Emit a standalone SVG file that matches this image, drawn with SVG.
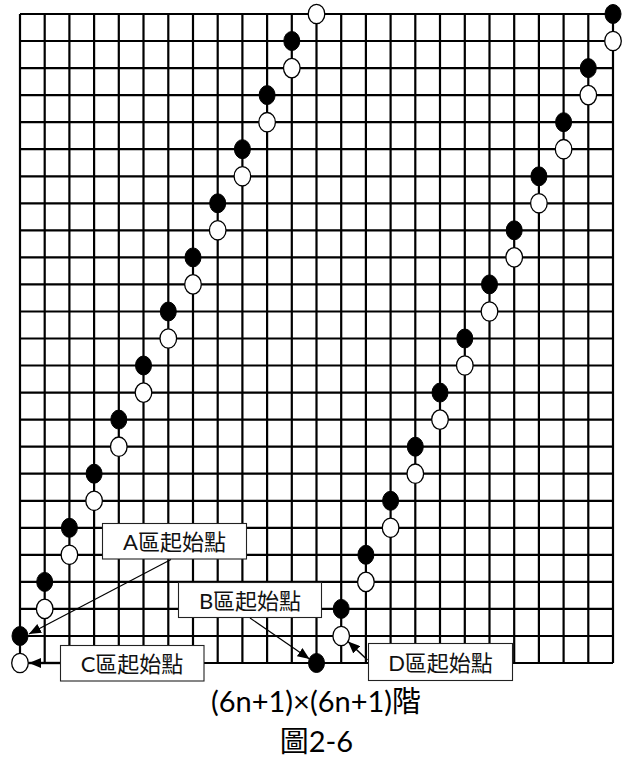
<svg xmlns="http://www.w3.org/2000/svg" width="624" height="760" viewBox="0 0 624 760">
<defs>
<style>
.grid{fill:none;stroke:#000;stroke-width:2.2}
.blk{fill:#000;stroke:#000;stroke-width:1}
.wht{fill:#fff;stroke:#000;stroke-width:1.3}
.box{fill:#fff;stroke:#222;stroke-width:1.1}
.lbl{font-family:Lato,"Noto Sans CJK TC",sans-serif;font-size:22px;fill:#111;text-anchor:middle}
.cap{font-family:Lato,"Noto Sans CJK TC",sans-serif;font-size:29px;fill:#000;text-anchor:middle}
.arr{fill:none;stroke:#000;stroke-width:1.2;marker-end:url(#ah)}
</style>
<marker id="ah" markerUnits="userSpaceOnUse" markerWidth="13" markerHeight="10" refX="12" refY="5" orient="auto">
<path d="M0,0 L12,5 L0,10 z" fill="#000"/>
</marker>
</defs>
<rect width="624" height="760" fill="#fff"/>
<g id="grid" class="grid">
<path d="M20,14V663M44.7,14V663M69.4,14V663M94.1,14V663M118.8,14V663M143.5,14V663M168.3,14V663M193,14V663M217.7,14V663M242.4,14V663M267.1,14V663M291.8,14V663M316.5,14V663M341.2,14V663M365.9,14V663M390.6,14V663M415.3,14V663M440,14V663M464.8,14V663M489.5,14V663M514.2,14V663M538.9,14V663M563.6,14V663M588.3,14V663M613,14V663"/>
<path d="M20,14H613M20,41H613M20,68.1H613M20,95.1H613M20,122.2H613M20,149.2H613M20,176.3H613M20,203.3H613M20,230.3H613M20,257.4H613M20,284.4H613M20,311.5H613M20,338.5H613M20,365.5H613M20,392.6H613M20,419.6H613M20,446.7H613M20,473.7H613M20,500.8H613M20,527.8H613M20,554.8H613M20,581.9H613M20,608.9H613M20,636H613M20,663H613"/>
</g>
<g id="chain-left">
<g id="L0b"><ellipse class="blk" cx="20" cy="636" rx="8" ry="9.5"/></g>
<g id="L0w"><ellipse class="wht" cx="20" cy="663" rx="8.3" ry="9.7"/></g>
<g id="L1b"><ellipse class="blk" cx="44.7" cy="581.9" rx="8" ry="9.5"/></g>
<g id="L1w"><ellipse class="wht" cx="44.7" cy="608.9" rx="8.3" ry="9.7"/></g>
<g id="L2b"><ellipse class="blk" cx="69.4" cy="527.8" rx="8" ry="9.5"/></g>
<g id="L2w"><ellipse class="wht" cx="69.4" cy="554.8" rx="8.3" ry="9.7"/></g>
<g id="L3b"><ellipse class="blk" cx="94.1" cy="473.7" rx="8" ry="9.5"/></g>
<g id="L3w"><ellipse class="wht" cx="94.1" cy="500.8" rx="8.3" ry="9.7"/></g>
<g id="L4b"><ellipse class="blk" cx="118.8" cy="419.6" rx="8" ry="9.5"/></g>
<g id="L4w"><ellipse class="wht" cx="118.8" cy="446.7" rx="8.3" ry="9.7"/></g>
<g id="L5b"><ellipse class="blk" cx="143.5" cy="365.5" rx="8" ry="9.5"/></g>
<g id="L5w"><ellipse class="wht" cx="143.5" cy="392.6" rx="8.3" ry="9.7"/></g>
<g id="L6b"><ellipse class="blk" cx="168.3" cy="311.5" rx="8" ry="9.5"/></g>
<g id="L6w"><ellipse class="wht" cx="168.3" cy="338.5" rx="8.3" ry="9.7"/></g>
<g id="L7b"><ellipse class="blk" cx="193" cy="257.4" rx="8" ry="9.5"/></g>
<g id="L7w"><ellipse class="wht" cx="193" cy="284.4" rx="8.3" ry="9.7"/></g>
<g id="L8b"><ellipse class="blk" cx="217.7" cy="203.3" rx="8" ry="9.5"/></g>
<g id="L8w"><ellipse class="wht" cx="217.7" cy="230.3" rx="8.3" ry="9.7"/></g>
<g id="L9b"><ellipse class="blk" cx="242.4" cy="149.2" rx="8" ry="9.5"/></g>
<g id="L9w"><ellipse class="wht" cx="242.4" cy="176.3" rx="8.3" ry="9.7"/></g>
<g id="L10b"><ellipse class="blk" cx="267.1" cy="95.1" rx="8" ry="9.5"/></g>
<g id="L10w"><ellipse class="wht" cx="267.1" cy="122.2" rx="8.3" ry="9.7"/></g>
<g id="L11b"><ellipse class="blk" cx="291.8" cy="41" rx="8" ry="9.5"/></g>
<g id="L11w"><ellipse class="wht" cx="291.8" cy="68.1" rx="8.3" ry="9.7"/></g>
<g id="L12w"><ellipse class="wht" cx="316.5" cy="14" rx="8.3" ry="9.7"/></g>
</g>
<g id="chain-right">
<g id="R12b"><ellipse class="blk" cx="316.5" cy="663" rx="8" ry="9.5"/></g>
<g id="R13b"><ellipse class="blk" cx="341.2" cy="608.9" rx="8" ry="9.5"/></g>
<g id="R13w"><ellipse class="wht" cx="341.2" cy="636" rx="8.3" ry="9.7"/></g>
<g id="R14b"><ellipse class="blk" cx="365.9" cy="554.8" rx="8" ry="9.5"/></g>
<g id="R14w"><ellipse class="wht" cx="365.9" cy="581.9" rx="8.3" ry="9.7"/></g>
<g id="R15b"><ellipse class="blk" cx="390.6" cy="500.8" rx="8" ry="9.5"/></g>
<g id="R15w"><ellipse class="wht" cx="390.6" cy="527.8" rx="8.3" ry="9.7"/></g>
<g id="R16b"><ellipse class="blk" cx="415.3" cy="446.7" rx="8" ry="9.5"/></g>
<g id="R16w"><ellipse class="wht" cx="415.3" cy="473.7" rx="8.3" ry="9.7"/></g>
<g id="R17b"><ellipse class="blk" cx="440" cy="392.6" rx="8" ry="9.5"/></g>
<g id="R17w"><ellipse class="wht" cx="440" cy="419.6" rx="8.3" ry="9.7"/></g>
<g id="R18b"><ellipse class="blk" cx="464.8" cy="338.5" rx="8" ry="9.5"/></g>
<g id="R18w"><ellipse class="wht" cx="464.8" cy="365.5" rx="8.3" ry="9.7"/></g>
<g id="R19b"><ellipse class="blk" cx="489.5" cy="284.4" rx="8" ry="9.5"/></g>
<g id="R19w"><ellipse class="wht" cx="489.5" cy="311.5" rx="8.3" ry="9.7"/></g>
<g id="R20b"><ellipse class="blk" cx="514.2" cy="230.3" rx="8" ry="9.5"/></g>
<g id="R20w"><ellipse class="wht" cx="514.2" cy="257.4" rx="8.3" ry="9.7"/></g>
<g id="R21b"><ellipse class="blk" cx="538.9" cy="176.3" rx="8" ry="9.5"/></g>
<g id="R21w"><ellipse class="wht" cx="538.9" cy="203.3" rx="8.3" ry="9.7"/></g>
<g id="R22b"><ellipse class="blk" cx="563.6" cy="122.2" rx="8" ry="9.5"/></g>
<g id="R22w"><ellipse class="wht" cx="563.6" cy="149.2" rx="8.3" ry="9.7"/></g>
<g id="R23b"><ellipse class="blk" cx="588.3" cy="68.1" rx="8" ry="9.5"/></g>
<g id="R23w"><ellipse class="wht" cx="588.3" cy="95.1" rx="8.3" ry="9.7"/></g>
<g id="R24b"><ellipse class="blk" cx="613" cy="14" rx="8" ry="9.5"/></g>
<g id="R24w"><ellipse class="wht" cx="613" cy="41" rx="8.3" ry="9.7"/></g>
</g>
<g id="label-A"><rect class="box" x="102.5" y="523.5" width="144" height="35.5"/><text class="lbl" x="174.5" y="550">A區起始點</text></g>
<g id="label-B"><rect class="box" x="178.5" y="582.5" width="143" height="35"/><text class="lbl" x="250" y="608.5">B區起始點</text></g>
<g id="label-C"><rect class="box" x="60.5" y="645.5" width="143.5" height="35.5"/><text class="lbl" x="132" y="672">C區起始點</text></g>
<g id="label-D"><rect class="box" x="368.5" y="643.5" width="144" height="37"/><text class="lbl" x="440.5" y="671">D區起始點</text></g>
<g id="connectors">
<line class="arr" x1="171" y1="559.5" x2="29" y2="634"/>
<line class="arr" x1="250" y1="618" x2="309.5" y2="659"/>
<line class="arr" x1="60" y1="663" x2="29" y2="663" style="stroke-width:2.4"/>
<line class="arr" x1="367.5" y1="660" x2="348" y2="641.5" style="stroke-width:1.5"/>
</g>
<text class="cap" x="316" y="712">(6n+1)×(6n+1)階</text>
<text class="cap" x="316.5" y="752">圖2-6</text>
</svg>
